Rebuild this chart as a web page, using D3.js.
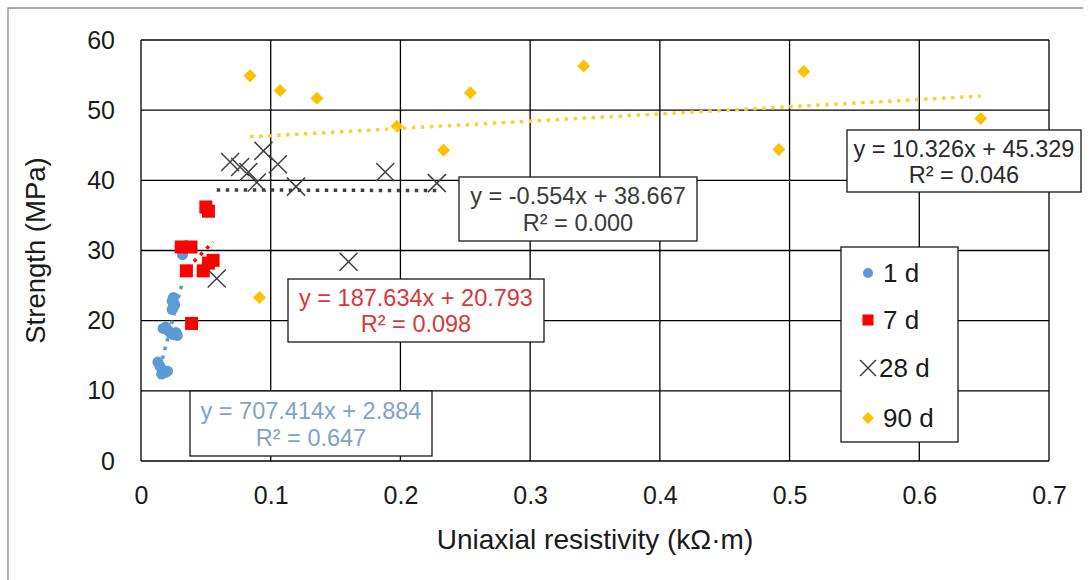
<!DOCTYPE html>
<html>
<head>
<meta charset="utf-8">
<title>Strength vs resistivity</title>
<script src="https://cdn.jsdelivr.net/npm/d3@7/dist/d3.min.js"></script>
<style>
  body { margin: 0; background: #fff; }
  text { font-family: "Liberation Sans", Arial, sans-serif; }
</style>
</head>
<body>
<script>
// series: [resistivity kOhm.m, strength MPa]
const d1 = [
  [0.013, 14.1], [0.0147, 13.5], [0.0165, 13.0], [0.0185, 12.6], [0.0205, 12.8], [0.016, 12.4],
  [0.017, 18.9], [0.019, 19.1], [0.021, 18.6], [0.023, 18.2], [0.025, 18.0], [0.027, 18.3], [0.028, 17.9],
  [0.025, 23.3], [0.024, 22.8], [0.026, 22.3], [0.025, 21.9], [0.024, 21.6],
  [0.032, 29.4]
];
const d7 = [
  [0.031, 30.5], [0.0385, 30.5], [0.050, 36.2], [0.052, 35.6],
  [0.035, 27.1], [0.048, 27.1], [0.0556, 28.6], [0.052, 28.2], [0.039, 19.6]
];
const d28 = [
  [0.0584, 26.0], [0.0687, 42.6], [0.0764, 41.9], [0.0944, 44.2], [0.1055, 42.3],
  [0.0828, 41.2], [0.0893, 39.7], [0.1195, 39.1], [0.1883, 41.2], [0.2281, 39.6], [0.160, 28.4]
];
const d90 = [
  [0.0841, 54.9], [0.1073, 52.8], [0.1356, 51.7], [0.1973, 47.7], [0.2539, 52.5],
  [0.2333, 44.3], [0.3413, 56.3], [0.511, 55.5], [0.4917, 44.4], [0.6474, 48.8], [0.0913, 23.3]
];

// trendline coefficients [slope, intercept, r2] as printed on the chart
const trend1 = [707.414, 2.884, 0.647];
const trend7 = [187.634, 20.793, 0.098];
const trend28 = [-0.554, 38.667, 0.000];
const trend90 = [10.326, 45.329, 0.046];

const xTicks = [0, 0.1, 0.2, 0.3, 0.4, 0.5, 0.6, 0.7];
const yTicks = [0, 10, 20, 30, 40, 50, 60];
const legendLabels = ["1 d", "7 d", "28 d", "90 d"];

const W = 1091, H = 580;
const pL = 141, pR = 1049, pT = 40, pB = 461;

const svg = d3.select("body").append("svg")
  .attr("width", W).attr("height", H)
  .style("display", "block")
  .style("background", "#fff");

// outer frame
svg.append("path")
  .attr("d", `M8,${H} L8,8 L1083,8`)
  .attr("fill", "none").attr("stroke", "#8a8a8a").attr("stroke-width", 1.3);

const x = d3.scaleLinear().domain([0, 0.7]).range([pL, pR]);
const y = d3.scaleLinear().domain([0, 60]).range([pB, pT]);

// grid
const grid = svg.append("g").attr("stroke", "#000").attr("stroke-width", 1.3);
grid.selectAll(".vx").data(xTicks).enter().append("line")
  .attr("x1", d => x(d)).attr("x2", d => x(d)).attr("y1", pT).attr("y2", pB);
grid.selectAll(".hy").data(yTicks).enter().append("line")
  .attr("x1", pL).attr("x2", pR).attr("y1", d => y(d)).attr("y2", d => y(d));

// axes (labels only)
const fmt = d => String(+d.toFixed(1));
const xAxis = svg.append("g").attr("transform", `translate(0,${pB})`)
  .call(d3.axisBottom(x).tickValues(xTicks).tickFormat(fmt).tickSize(0).tickPadding(25));
const yAxis = svg.append("g").attr("transform", `translate(${pL},0)`)
  .call(d3.axisLeft(y).tickValues(yTicks).tickFormat(fmt).tickSize(0).tickPadding(26));
[xAxis, yAxis].forEach(a => {
  a.select(".domain").remove();
  a.selectAll("text").attr("font-size", 25).attr("fill", "#1a1a1a")
    .attr("font-family", "Liberation Sans, Arial, sans-serif");
});

svg.append("text").attr("x", (pL + pR) / 2).attr("y", 549)
  .attr("text-anchor", "middle").attr("font-size", 28).attr("fill", "#1a1a1a")
  .text("Uniaxial resistivity (kΩ·m)");
svg.append("text")
  .attr("transform", `translate(45,${(pT + pB) / 2}) rotate(-90)`)
  .attr("text-anchor", "middle").attr("font-size", 27.5).attr("fill", "#1a1a1a")
  .text("Strength (MPa)");

// markers
const colors = { d1: "#5B9BD5", d7: "#FF0000", d28: "#404040", d90: "#FFC000" };

function circles(g, data, r) {
  g.selectAll("circle").data(data).enter().append("circle")
    .attr("cx", d => x(d[0])).attr("cy", d => y(d[1])).attr("r", r)
    .attr("fill", colors.d1);
}
function squares(g, data, s) {
  g.selectAll("rect").data(data).enter().append("rect")
    .attr("x", d => x(d[0]) - s / 2).attr("y", d => y(d[1]) - s / 2)
    .attr("width", s).attr("height", s).attr("fill", colors.d7);
}
function crosses(g, data, s) {
  g.selectAll("path").data(data).enter().append("path")
    .attr("d", d => {
      const cx = x(d[0]), cy = y(d[1]), h = s / 2;
      return `M${cx - h},${cy - h}L${cx + h},${cy + h}M${cx - h},${cy + h}L${cx + h},${cy - h}`;
    })
    .attr("stroke", colors.d28).attr("stroke-width", 1.5).attr("fill", "none");
}
function diamonds(g, data, s) {
  g.selectAll("path").data(data).enter().append("path")
    .attr("d", d => {
      const cx = x(d[0]), cy = y(d[1]), h = s / 2;
      return `M${cx},${cy - h}L${cx + h},${cy}L${cx},${cy + h}L${cx - h},${cy}Z`;
    })
    .attr("fill", colors.d90);
}

crosses(svg.append("g"), d28, 18);
diamonds(svg.append("g"), d90, 13);
circles(svg.append("g"), d1, 5.5);
squares(svg.append("g"), d7, 13);

// trendlines
function trend(data, c, color) {
  const xs = d3.extent(data, d => d[0]);
  svg.append("line")
    .attr("x1", x(xs[0])).attr("y1", y(c[0] * xs[0] + c[1]))
    .attr("x2", x(xs[1])).attr("y2", y(c[0] * xs[1] + c[1]))
    .attr("stroke", color).attr("stroke-width", 3.5)
    .attr("stroke-dasharray", "3.5 5.5");
}
trend(d1, trend1, colors.d1);
trend(d7, trend7, colors.d7);
trend(d28, trend28, colors.d28);
trend(d90, trend90, "#FFD033");

// equation labels
function eqLabel(c, bx, by, bw, bh, color) {
  const g = svg.append("g");
  g.append("rect").attr("x", bx).attr("y", by).attr("width", bw).attr("height", bh)
    .attr("fill", "#fff").attr("stroke", "#1a1a1a").attr("stroke-width", 1.3);
  const sign = c[1] >= 0 ? "+" : "-";
  g.append("text").attr("x", bx + bw / 2).attr("y", by + bh * 0.30)
    .attr("text-anchor", "middle").attr("dominant-baseline", "central")
    .attr("font-size", 23.5).attr("fill", color)
    .text(`y = ${c[0].toFixed(3)}x  ${sign} ${Math.abs(c[1]).toFixed(3)}`);
  g.append("text").attr("x", bx + bw / 2).attr("y", by + bh * 0.72)
    .attr("text-anchor", "middle").attr("dominant-baseline", "central")
    .attr("font-size", 23.5).attr("fill", color)
    .text(`R² = ${c[2].toFixed(3)}`);
}
eqLabel(trend28, 459, 177, 238, 64, "#3a3a3a");
eqLabel(trend7, 288, 279, 256, 63, "#D8383B");
eqLabel(trend1, 190, 391, 242, 65, "#7FA3C6");
eqLabel(trend90, 847, 130, 234, 62, "#2a2a2a");

// legend
const lg = svg.append("g");
lg.append("rect").attr("x", 841).attr("y", 247).attr("width", 117).attr("height", 195)
  .attr("fill", "#fff").attr("stroke", "#1a1a1a").attr("stroke-width", 1.3);
const rowY = [273, 320, 368, 418];
const mk = 868;
lg.append("circle").attr("cx", mk).attr("cy", rowY[0]).attr("r", 5).attr("fill", colors.d1);
lg.append("rect").attr("x", mk - 5.5).attr("y", rowY[1] - 5.5).attr("width", 11).attr("height", 11).attr("fill", colors.d7);
lg.append("path").attr("d", `M${mk - 8},${rowY[2] - 8}L${mk + 8},${rowY[2] + 8}M${mk - 8},${rowY[2] + 8}L${mk + 8},${rowY[2] - 8}`)
  .attr("stroke", colors.d28).attr("stroke-width", 1.5);
lg.append("path").attr("d", `M${mk},${rowY[3] - 6}L${mk + 6},${rowY[3]}L${mk},${rowY[3] + 6}L${mk - 6},${rowY[3]}Z`)
  .attr("fill", colors.d90);
lg.selectAll("text").data(legendLabels).enter().append("text")
  .attr("x", (d, i) => i === 2 ? 879 : 883).attr("y", (d, i) => rowY[i])
  .attr("dominant-baseline", "central").attr("font-size", 26).attr("fill", "#1a1a1a")
  .text(d => d);
</script>
</body>
</html>
